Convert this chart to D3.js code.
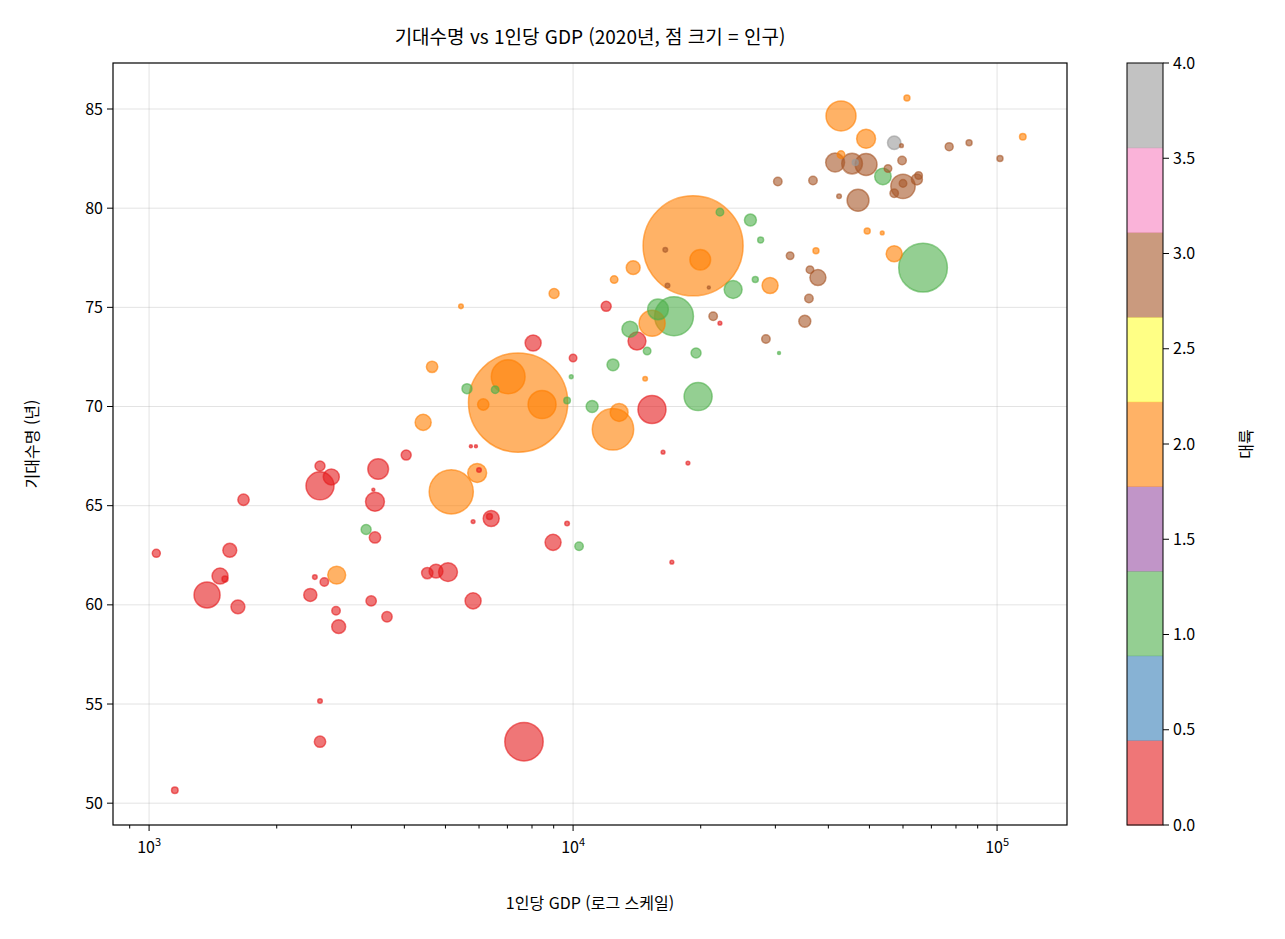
<!DOCTYPE html>
<html lang="ko">
<head>
<meta charset="UTF-8">
<title>기대수명 vs 1인당 GDP</title>
<style>
  body { margin: 0; background: #fff; }
  text { font-family: "Noto Sans CJK KR", "Noto Sans", sans-serif; fill: #000; }
</style>
</head>
<body>
<svg id="chart" width="1285" height="939"></svg>
<script src="https://d3js.org/d3.v7.min.js"></script>
<script>
  // [gdp per capita, life expectancy, population (millions), continent code]
  var data = [
    [4430, 69.2, 36, 2], [5740, 68.0, 1, 0], [4040, 67.55, 14, 0], [2530, 67.0, 14, 0],
    [2690, 66.45, 36, 0], [2530, 66.0, 110, 0], [3470, 66.85, 60, 0], [3380, 65.8, 1, 0],
    [3410, 65.2, 50, 0], [1670, 65.3, 18, 0], [5160, 65.7, 273, 2], [5940, 66.65, 50, 2],
    [6000, 66.8, 3, 0], [6410, 64.35, 36, 0], [6350, 64.45, 5, 0], [5810, 64.2, 2, 0],
    [9680, 64.1, 3, 0], [8970, 63.15, 36, 0], [10330, 62.95, 10, 1], [3250, 63.8, 14, 1],
    [3410, 63.4, 18, 0], [1040, 62.6, 9, 0], [1550, 62.75, 27, 0], [1470, 61.45, 36, 0],
    [1510, 61.3, 5, 0], [1370, 60.5, 95, 0], [1620, 59.9, 27, 0], [2460, 61.4, 3, 0],
    [2590, 61.15, 10, 0], [2770, 61.5, 45, 2], [2400, 60.5, 24, 0], [3340, 60.2, 15, 0],
    [2760, 59.7, 10, 0], [2800, 58.9, 27, 0], [3640, 59.4, 15, 0], [4530, 61.6, 18, 0],
    [4750, 61.7, 27, 0], [5070, 61.65, 50, 0], [5810, 60.2, 36, 0], [2530, 55.15, 3, 0],
    [2530, 53.1, 18, 0], [7660, 53.1, 206, 0], [1150, 50.65, 6, 0],
    [19190, 78.1, 1400, 2], [19950, 77.4, 60, 2], [22200, 79.8, 8, 1], [26200, 79.4, 20, 1],
    [27700, 78.4, 5, 1], [32500, 77.6, 8, 3], [16500, 77.9, 3, 3], [16700, 76.1, 3, 3],
    [20900, 76.0, 1, 3], [13860, 77.0, 27, 2], [12500, 76.4, 8, 2], [23850, 75.9, 45, 1],
    [26900, 76.4, 5, 1], [29150, 76.1, 36, 2], [9020, 75.7, 14, 2], [5440, 75.05, 3, 2],
    [11970, 75.05, 14, 0], [15860, 74.9, 60, 1], [17300, 74.55, 212, 1], [15360, 74.2, 95, 2],
    [13620, 73.9, 36, 1], [14150, 73.3, 45, 0], [14950, 72.8, 8, 1], [19500, 72.7, 14, 1],
    [21400, 74.55, 10, 3], [22200, 74.2, 2, 0], [28500, 73.4, 10, 3], [30600, 72.7, 1, 1],
    [8050, 73.2, 36, 0], [10000, 72.45, 8, 0], [9900, 71.5, 2, 1], [12420, 72.1, 20, 1],
    [14790, 71.4, 3, 2], [4650, 72.0, 18, 2], [5620, 70.9, 14, 1], [6550, 70.85, 8, 1],
    [7420, 70.2, 1380, 2], [7030, 71.5, 160, 2], [8450, 70.1, 110, 2], [6140, 70.1, 18, 2],
    [9680, 70.3, 6, 1], [11090, 70.0, 20, 1], [12420, 68.85, 240, 2], [12840, 69.7, 45, 2],
    [15350, 69.85, 110, 0], [19720, 70.5, 110, 1], [16300, 67.7, 2, 0], [18660, 67.15, 2, 0],
    [17100, 62.15, 2, 0], [5900, 68.0, 1, 0],
    [61300, 85.55, 5, 2], [42850, 84.65, 126, 2], [49100, 83.5, 50, 2], [57200, 83.3, 25, 4],
    [59500, 83.15, 2, 3], [77100, 83.1, 9, 3], [85900, 83.3, 5, 3], [115000, 83.6, 6, 2],
    [101600, 82.5, 5, 3], [42850, 82.7, 8, 2], [41500, 82.3, 50, 3], [45500, 82.25, 60, 3],
    [46300, 82.3, 5, 4], [49100, 82.2, 67, 3], [59700, 82.4, 10, 3], [55300, 82.0, 8, 3],
    [53800, 81.6, 38, 1], [60000, 81.1, 83, 3], [60000, 81.25, 8, 3], [64700, 81.45, 17, 3],
    [65300, 81.65, 8, 3], [57200, 80.75, 10, 3], [47000, 80.4, 67, 3], [42400, 80.6, 3, 3],
    [30400, 81.35, 10, 3], [36800, 81.4, 10, 3], [49400, 78.85, 5, 2], [53600, 78.75, 2, 2],
    [37400, 77.85, 5, 2], [57200, 77.7, 36, 2], [66900, 77.0, 331, 1], [36200, 76.9, 8, 3],
    [37800, 76.5, 36, 3], [36000, 75.45, 10, 3], [35200, 74.3, 20, 3]
  ];

  var set1 = ["#e41a1c", "#377eb8", "#4daf4a", "#984ea3", "#ff7f00", "#ffff33", "#a65628", "#f781bf", "#999999"];
  function colorOf(c) { return set1[Math.round(c / 4 * 8)]; }

  var svg = d3.select("#chart");
  var pL = 113, pR = 1067, pT = 63, pB = 825;

  var x = d3.scaleLog().domain([822, 146200]).range([pL, pR]);
  var y = d3.scaleLinear().domain([48.9, 87.32]).range([pB, pT]);
  var r = d3.scaleSqrt().domain([0, 1400]).range([0, 50]);

  // grid
  var yTicks = [50, 55, 60, 65, 70, 75, 80, 85];
  var xTicks = [1e3, 1e4, 1e5];
  svg.append("g").selectAll("line").data(yTicks).join("line")
    .attr("x1", pL).attr("x2", pR).attr("y1", d => y(d)).attr("y2", d => y(d))
    .attr("stroke", "#b0b0b0").attr("stroke-opacity", 0.35).attr("stroke-width", 1);
  svg.append("g").selectAll("line").data(xTicks).join("line")
    .attr("y1", pT).attr("y2", pB).attr("x1", d => x(d)).attr("x2", d => x(d))
    .attr("stroke", "#b0b0b0").attr("stroke-opacity", 0.35).attr("stroke-width", 1);

  // points (largest first)
  var sorted = data.slice().sort((a, b) => b[2] - a[2]);
  svg.append("g").selectAll("circle").data(sorted).join("circle")
    .attr("cx", d => x(d[0])).attr("cy", d => y(d[1])).attr("r", d => Math.max(1.5, r(d[2])))
    .attr("fill", d => colorOf(d[3])).attr("fill-opacity", 0.6)
    .attr("stroke", d => colorOf(d[3])).attr("stroke-opacity", 0.6).attr("stroke-width", 1.5);

  // frame
  svg.append("rect").attr("x", pL).attr("y", pT).attr("width", pR - pL).attr("height", pB - pT)
    .attr("fill", "none").attr("stroke", "#000").attr("stroke-width", 1.2);

  // y ticks
  var gy = svg.append("g");
  yTicks.forEach(function (t) {
    gy.append("line").attr("x1", pL - 6).attr("x2", pL).attr("y1", y(t)).attr("y2", y(t)).attr("stroke", "#000");
    gy.append("text").attr("x", pL - 10).attr("y", y(t)).attr("dy", "0.35em")
      .attr("text-anchor", "end").attr("font-size", 16).text(t);
  });

  // x ticks (log, with minors)
  var gx = svg.append("g");
  [100, 1000, 10000, 100000].forEach(function (base) {
    for (var m = 1; m < 10; m++) {
      var v = base * m;
      if (v < x.domain()[0] || v > x.domain()[1]) continue;
      gx.append("line").attr("x1", x(v)).attr("x2", x(v)).attr("y1", pB)
        .attr("y2", pB + (m === 1 ? 6 : 3.5)).attr("stroke", "#000");
    }
  });
  xTicks.forEach(function (t) {
    var tx = gx.append("text").attr("x", x(t)).attr("y", pB + 28).attr("text-anchor", "middle").attr("font-size", 16);
    tx.append("tspan").text("10");
    tx.append("tspan").attr("dy", -7).attr("font-size", 11).text(Math.round(Math.log10(t)));
  });

  // labels
  svg.append("text").attr("x", (pL + pR) / 2).attr("y", 44).attr("text-anchor", "middle")
    .attr("font-size", 19).text("기대수명 vs 1인당 GDP (2020년, 점 크기 = 인구)");
  svg.append("text").attr("x", (pL + pR) / 2).attr("y", 909).attr("text-anchor", "middle")
    .attr("font-size", 16).text("1인당 GDP (로그 스케일)");
  svg.append("text").attr("transform", "translate(38," + (pT + pB) / 2 + ") rotate(-90)")
    .attr("text-anchor", "middle").attr("font-size", 16).text("기대수명 (년)");

  // colorbar
  var cbL = 1127, cbW = 36;
  var c = d3.scaleLinear().domain([0, 4]).range([pB, pT]);
  var cb = svg.append("g");
  cb.selectAll("rect").data(d3.range(9)).join("rect")
    .attr("x", cbL).attr("width", cbW)
    .attr("y", i => c((i + 1) * 4 / 9)).attr("height", i => c(i * 4 / 9) - c((i + 1) * 4 / 9) + 0.5)
    .attr("fill", i => set1[i]).attr("fill-opacity", 0.6);
  cb.append("rect").attr("x", cbL).attr("y", pT).attr("width", cbW).attr("height", pB - pT)
    .attr("fill", "none").attr("stroke", "#000").attr("stroke-width", 1);
  d3.range(0, 4.01, 0.5).forEach(function (t) {
    cb.append("line").attr("x1", cbL + cbW).attr("x2", cbL + cbW + 6).attr("y1", c(t)).attr("y2", c(t)).attr("stroke", "#000");
    cb.append("text").attr("x", cbL + cbW + 10).attr("y", c(t)).attr("dy", "0.35em")
      .attr("font-size", 16).text(t.toFixed(1));
  });
  svg.append("text").attr("transform", "translate(1252," + (pT + pB) / 2 + ") rotate(-90)")
    .attr("text-anchor", "middle").attr("font-size", 16).text("대륙");
</script>
</body>
</html>
